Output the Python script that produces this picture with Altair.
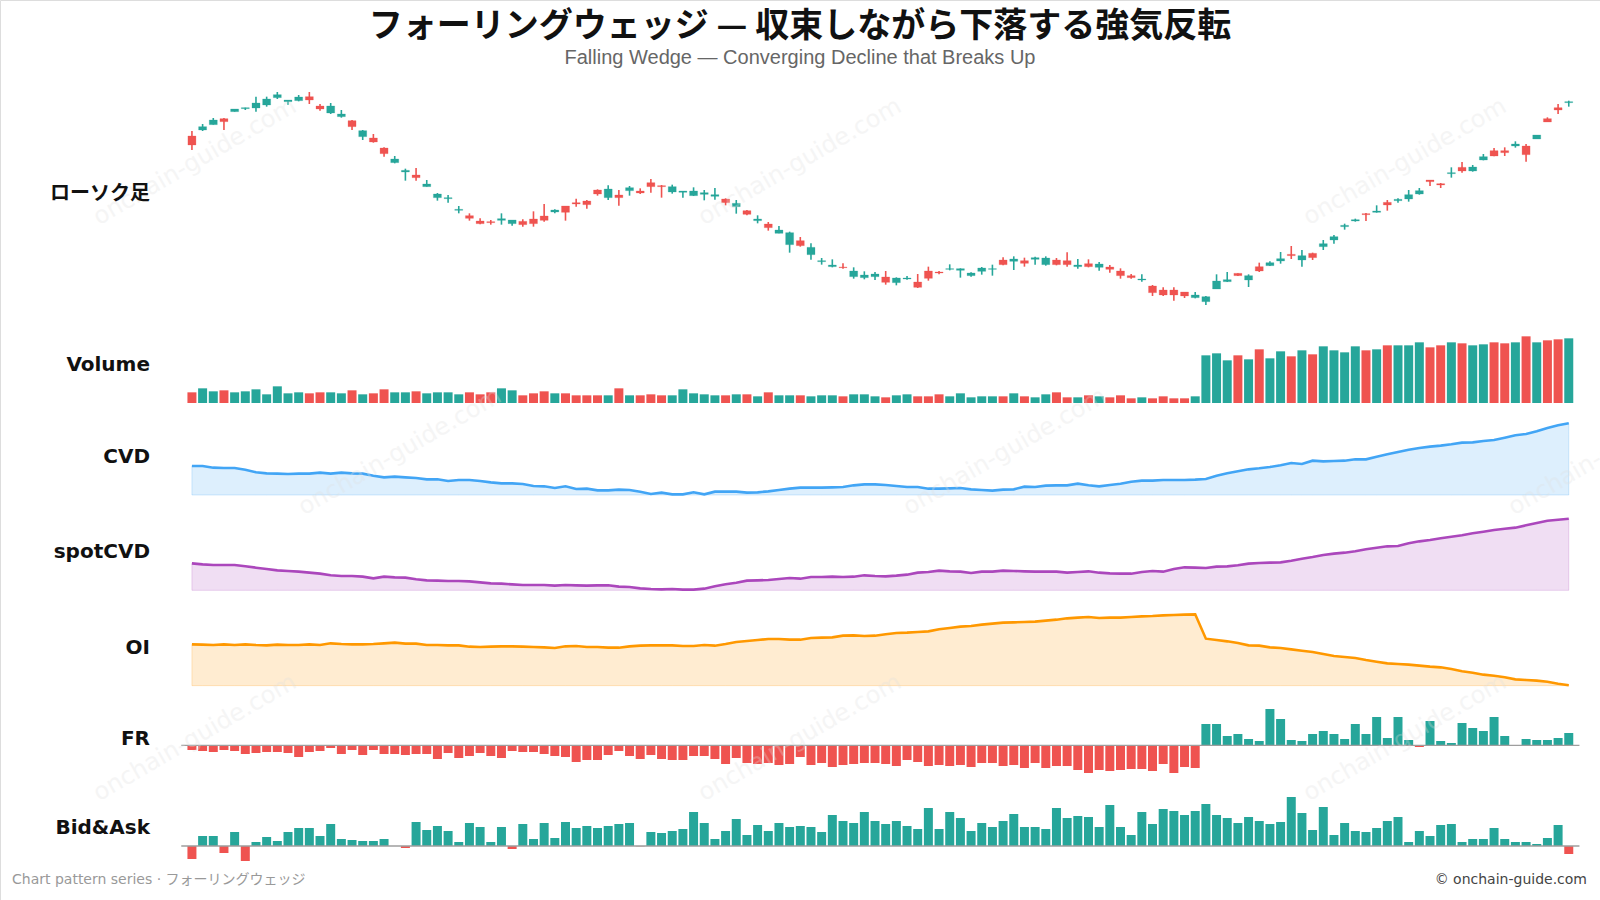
import altair as alt
import pandas as pd

GREEN = "#26a69a"
RED = "#ef5350"

N = 130
idx = list(range(N))

open_ = [832, 850, 866, 884, 905, 914, 916, 925, 947, 935, 938, 950, 922, 901, 890, 878, 830, 826, 796, 752,
         724, 715, 680, 647, 644, 609, 593, 577, 575, 579, 569, 576, 583, 592, 604, 622, 632, 637, 670, 647,
         655, 668, 667, 692, 683, 664, 663, 653, 657, 651, 643, 620, 608, 578, 568, 540, 506, 518, 476, 455,
         440, 439, 410, 407, 410, 409, 392, 403, 394, 427, 424, 432, 429, 413, 426, 432, 460, 456, 458, 462,
         446, 460, 458, 440, 449, 438, 439, 427, 413, 400, 382, 370, 370, 364, 347, 335, 373, 395, 420, 400,
         440, 443, 457, 477, 460, 480, 500, 520, 560, 577, 599, 603, 633, 638, 643, 658, 700, 689, 719, 738,
         727, 760, 788, 788, 802, 802, 823, 884, 917, 932]
high = [847, 868, 886, 886, 913, 917, 950, 950, 964, 940, 955, 964, 928, 931, 910, 880, 850, 838, 798, 772,
        734, 736, 700, 661, 655, 622, 600, 585, 580, 600, 580, 582, 606, 628, 612, 622, 644, 640, 672, 684,
        670, 682, 675, 703, 685, 686, 667, 678, 670, 676, 645, 640, 610, 594, 574, 562, 545, 529, 510, 466,
        462, 450, 438, 426, 424, 427, 408, 412, 418, 440, 427, 447, 435, 423, 439, 446, 468, 471, 467, 470,
        471, 466, 483, 463, 462, 454, 445, 435, 418, 417, 385, 378, 378, 364, 364, 352, 417, 424, 420, 417,
        452, 456, 484, 502, 490, 482, 520, 535, 569, 584, 601, 624, 640, 645, 670, 676, 700, 691, 738, 754,
        745, 778, 796, 798, 816, 808, 835, 888, 928, 938]
low = [790, 847, 866, 850, 905, 910, 905, 920, 943, 926, 936, 928, 908, 898, 887, 850, 820, 812, 770, 750,
       698, 698, 680, 638, 632, 600, 578, 567, 566, 566, 563, 560, 560, 575, 600, 578, 620, 614, 653, 640,
       623, 653, 658, 662, 647, 659, 647, 652, 639, 641, 624, 599, 594, 570, 548, 540, 482, 500, 461, 446,
       438, 434, 404, 402, 400, 386, 384, 401, 376, 398, 417, 429, 407, 410, 416, 413, 444, 430, 440, 446,
       443, 444, 440, 434, 438, 428, 422, 404, 404, 395, 352, 352, 338, 346, 345, 325, 373, 394, 412, 379,
       424, 442, 449, 463, 440, 460, 490, 509, 551, 575, 577, 602, 608, 632, 635, 656, 682, 676, 707, 722,
       725, 759, 771, 772, 797, 755, 823, 874, 898, 920]
close = [805, 860, 880, 875, 913, 917, 931, 943, 956, 940, 949, 940, 913, 922, 898, 860, 848, 814, 779, 763,
         729, 707, 688, 658, 647, 612, 585, 569, 572, 584, 580, 566, 569, 579, 610, 603, 628, 626, 658, 673,
         647, 677, 661, 680, 680, 680, 667, 667, 662, 656, 632, 630, 597, 583, 557, 550, 542, 503, 498, 458,
         445, 437, 427, 415, 418, 393, 406, 406, 378, 405, 421, 434, 434, 421, 436, 434, 446, 463, 450, 467,
         466, 446, 446, 445, 440, 448, 432, 413, 407, 403, 362, 355, 355, 352, 355, 350, 397, 401, 413, 413,
         427, 452, 464, 473, 473, 467, 509, 530, 564, 581, 596, 607, 625, 642, 656, 668, 695, 685, 722, 727,
         739, 770, 772, 782, 808, 776, 835, 874, 910, 935]
volume = [32, 44, 35, 38, 32, 35, 41, 26, 50, 29, 32, 29, 32, 32, 29, 38, 26, 29, 41, 32,
          32, 35, 29, 32, 32, 26, 32, 26, 32, 44, 38, 23, 29, 35, 29, 29, 23, 23, 23, 23,
          44, 23, 23, 26, 23, 23, 41, 29, 26, 23, 23, 26, 26, 20, 32, 23, 23, 23, 20, 23,
          23, 20, 26, 26, 20, 17, 23, 26, 20, 20, 26, 20, 29, 17, 20, 20, 20, 29, 20, 17,
          26, 32, 17, 17, 23, 20, 17, 23, 14, 17, 14, 20, 14, 14, 20, 143, 149, 128, 143, 131,
          161, 134, 155, 140, 158, 146, 170, 158, 152, 170, 158, 161, 173, 173, 173, 182, 167, 173, 182, 179,
          173, 176, 182, 179, 182, 200, 182, 188, 191, 194]
cvd = [87, 87, 82, 81, 81, 76, 68, 65, 64, 63, 64, 64, 67, 64, 67, 65, 64, 58, 53, 55,
       53, 51, 47, 47, 42, 45, 45, 42, 38, 35, 35, 33, 27, 26, 21, 26, 18, 19, 14, 14,
       16, 15, 10, 3, 7, 2, 2, 8, 2, 10, 10, 10, 7, 8, 11, 15, 19, 22, 22, 22,
       23, 24, 29, 32, 32, 30, 27, 24, 24, 19, 19, 20, 21, 17, 15, 13, 16, 17, 25, 24,
       28, 29, 29, 34, 29, 26, 30, 34, 40, 43, 43, 45, 45, 45, 46, 48, 58, 65, 71, 77,
       80, 84, 89, 96, 93, 103, 101, 102, 103, 107, 107, 115, 122, 129, 136, 141, 145, 148, 152, 157,
       158, 162, 165, 172, 179, 183, 191, 201, 209, 215]
spot_cvd = [81, 78, 76, 76, 76, 72, 68, 64, 60, 58, 56, 53, 50, 45, 43, 43, 41, 36, 41, 39,
            38, 33, 30, 29, 28, 28, 27, 24, 21, 20, 18, 16, 16, 16, 14, 16, 15, 14, 15, 15,
            11, 10, 6, 4, 3, 4, 2, 2, 5, 12, 18, 23, 29, 30, 31, 34, 37, 35, 40, 40,
            41, 40, 41, 45, 43, 42, 44, 47, 53, 55, 59, 57, 56, 52, 56, 56, 59, 58, 57, 56,
            56, 56, 53, 55, 57, 53, 51, 50, 50, 55, 58, 56, 64, 69, 68, 67, 71, 72, 75, 80,
            82, 83, 84, 89, 95, 100, 106, 110, 113, 117, 123, 128, 132, 133, 141, 147, 151, 156, 161, 165,
            171, 176, 181, 185, 188, 195, 202, 209, 212, 215]
oi = [124, 123, 122, 124, 122, 124, 122, 121, 123, 122, 122, 124, 122, 127, 125, 124, 124, 125, 127, 129,
      126, 126, 122, 122, 121, 121, 117, 116, 117, 118, 118, 117, 116, 115, 113, 118, 119, 116, 116, 114,
      114, 118, 120, 121, 121, 121, 119, 119, 122, 120, 125, 131, 134, 137, 140, 140, 138, 138, 143, 144,
      145, 150, 151, 149, 150, 154, 158, 159, 161, 163, 169, 173, 177, 179, 183, 186, 189, 190, 191, 192,
      195, 198, 202, 204, 206, 203, 204, 204, 206, 208, 209, 211, 212, 213, 214, 141, 137, 133, 128, 121,
      120, 115, 113, 109, 105, 101, 95, 89, 86, 83, 77, 72, 67, 65, 63, 60, 57, 55, 50, 43,
      39, 33, 30, 25, 19, 17, 15, 12, 6, 1]
fr = [-14, -17, -20, -14, -17, -26, -23, -20, -20, -23, -35, -20, -17, -8, -26, -14, -29, -14, -26, -26,
      -29, -26, -26, -41, -23, -38, -32, -23, -32, -38, -17, -20, -20, -26, -32, -35, -50, -44, -44, -29,
      -17, -32, -41, -29, -41, -44, -44, -32, -32, -41, -56, -38, -53, -56, -53, -59, -56, -35, -59, -53,
      -65, -59, -56, -53, -53, -56, -62, -44, -50, -62, -59, -62, -59, -65, -53, -53, -62, -59, -68, -53,
      -68, -62, -62, -74, -83, -74, -77, -74, -71, -71, -77, -56, -83, -65, -68, 64, 64, 28, 34, 19,
      13, 109, 79, 16, 13, 34, 43, 34, 19, 64, 34, 85, 22, 85, 16, -5, 73, 13, 7, 67,
      52, 43, 85, 28, -1, 19, 16, 16, 22, 37]
bid_ask = [-39, 30, 30, -21, 42, -45, 12, 27, 15, 42, 54, 54, 30, 66, 21, 18, 15, 15, 21, 0,
           -6, 72, 48, 60, 45, 12, 69, 57, 12, 57, -9, 66, 21, 69, 24, 72, 54, 60, 54, 60,
           66, 69, -1, 42, 39, 45, 51, 102, 69, 21, 45, 81, 33, 63, 45, 69, 57, 60, 57, 42,
           93, 75, 69, 102, 75, 66, 75, 60, 51, 114, 51, 102, 84, 45, 69, 57, 75, 96, 57, 57,
           51, 114, 84, 90, 87, 57, 123, 57, 33, 102, 66, 111, 105, 93, 105, 126, 93, 84, 69, 87,
           75, 66, 72, 147, 99, 48, 117, 33, 69, 45, 42, 54, 75, 87, 12, 45, 30, 63, 66, 12,
           21, 21, 54, 21, 12, 12, 6, 24, 63, -24]

panel_labels = ["ローソク足", "Volume", "CVD", "spotCVD", "OI", "FR", "Bid&Ask"]
title_text = "フォーリングウェッジ — 収束しながら下落する強気反転"
subtitle_text = "Falling Wedge — Converging Decline that Breaks Up"
footer_left = "Chart pattern series · フォーリングウェッジ"
footer_right = "© onchain-guide.com"
watermark = "onchain-guide.com"

df = pd.DataFrame({"i": idx, "open": open_, "high": high, "low": low, "close": close,
                   "volume": volume, "cvd": cvd, "spot": spot_cvd, "oi": oi,
                   "fr": fr, "ba": bid_ask})
df["dir"] = ["up" if c >= o else "down" for o, c in zip(open_, close)]
df["fr_sign"] = ["pos" if v >= 0 else "neg" for v in fr]
df["ba_sign"] = ["pos" if v >= 0 else "neg" for v in bid_ask]

xs = alt.Scale(domain=[-0.5, 129.5], range=[181.6, 1579.1], nice=False, zero=False)
X = alt.X("i:Q", scale=xs, axis=None)

def colr(field, dom):
    return alt.Color(field, scale=alt.Scale(domain=dom, range=[GREEN, RED]), legend=None)

base = alt.Chart(df)

# candles
ys_c = alt.Scale(domain=[300, 1000], range=[313.33, 80], nice=False, zero=False)
wick = base.mark_rule(strokeWidth=1.6).encode(
    x=X, y=alt.Y("low:Q", scale=ys_c, axis=None), y2="high:Q", color=colr("dir:N", ["up", "down"]))
body = base.mark_bar(size=8, strokeWidth=1, strokeOpacity=0.25).encode(
    x=X, y=alt.Y("open:Q", scale=ys_c, axis=None), y2="close:Q",
    color=colr("dir:N", ["up", "down"]),
    stroke=alt.Stroke("dir:N", scale=alt.Scale(domain=["up", "down"], range=[GREEN, RED]), legend=None))

# volume
ys_v = alt.Scale(domain=[0, 200], range=[403, 336.33], nice=False)
vol = base.mark_bar(size=9).encode(
    x=X, y=alt.Y("volume:Q", scale=ys_v, axis=None), color=colr("dir:N", ["up", "down"]))

def area_panel(field, rng, col):
    s = alt.Scale(domain=[0, 215], range=rng, nice=False)
    a = base.mark_area(color=col, fillOpacity=0.18, stroke=col, strokeOpacity=0.22, strokeWidth=1).encode(
        x=X, y=alt.Y(f"{field}:Q", scale=s, axis=None))
    l = base.mark_line(color=col, strokeWidth=2.6).encode(
        x=X, y=alt.Y(f"{field}:Q", scale=s, axis=None))
    return [a, l]

cvd_layers = area_panel("cvd", [495, 423.33], "#42a5f5")
spot_layers = area_panel("spot", [590.33, 518.67], "#ab47bc")
oi_layers = area_panel("oi", [685.67, 614], "#ff9800")

# FR
ys_f = alt.Scale(domain=[-90, 110], range=[775.33, 708.67], nice=False)
fr_bar = base.mark_bar(size=9).encode(
    x=X, y=alt.Y("fr:Q", scale=ys_f, axis=None), color=colr("fr_sign:N", ["pos", "neg"]))
fr_zero = alt.Chart(pd.DataFrame({"z": [0]})).mark_rule(color="#9e9e9e", strokeWidth=1.4).encode(
    x=alt.XDatum(-1, scale=xs, axis=None), x2=alt.X2Datum(130), y=alt.Y("z:Q", scale=ys_f, axis=None))

# Bid & Ask
ys_b = alt.Scale(domain=[-50, 150], range=[862.67, 796], nice=False)
ba_bar = base.mark_bar(size=9).encode(
    x=X, y=alt.Y("ba:Q", scale=ys_b, axis=None), color=colr("ba_sign:N", ["pos", "neg"]))
ba_zero = alt.Chart(pd.DataFrame({"z": [0]})).mark_rule(color="#9e9e9e", strokeWidth=1.4).encode(
    x=alt.XDatum(-1, scale=xs, axis=None), x2=alt.X2Datum(130), y=alt.Y("z:Q", scale=ys_b, axis=None))

def text_layer(txt, x, y, **kw):
    return alt.Chart(pd.DataFrame({"t": [txt]})).mark_text(**kw).encode(
        text="t:N", x=alt.value(x), y=alt.value(y))

label_y = [194, 365, 457, 552, 648, 739, 828]
labels = []
for lab, yy in zip(panel_labels, label_y):
    labels.append(text_layer(lab, 150, yy, align="right", baseline="middle", fontSize=20,
                             fontWeight="bold", font="DejaVu Sans, Noto Sans CJK JP", color="#111"))

title = text_layer(title_text, 800, 27, align="center", baseline="middle", fontSize=34,
                   fontWeight="bold", font="Noto Sans CJK JP", color="#111")
subtitle = text_layer(subtitle_text, 800, 58, align="center", baseline="middle", fontSize=20,
                      font="Liberation Sans", color="#666")
foot_l = text_layer(footer_left, 12, 880, align="left", baseline="middle", fontSize=14,
                    font="DejaVu Sans, Noto Sans CJK JP", color="#999")
foot_r = text_layer(footer_right, 1587, 880, align="right", baseline="middle", fontSize=14,
                    font="DejaVu Sans", color="#444")

wm_pos = [(195, 162), (800, 162), (1405, 162), (400, 452), (1005, 452), (1610, 452),
          (195, 738), (800, 738), (1405, 738)]
wms = [text_layer(watermark, x, y, align="center", baseline="middle", fontSize=24, angle=330,
                  font="DejaVu Sans", color="#e0e0e0", opacity=0.3) for x, y in wm_pos]

layers = (cvd_layers + spot_layers + oi_layers + [vol, fr_bar, fr_zero, ba_bar, ba_zero, wick, body]
          + wms + labels + [title, subtitle, foot_l, foot_r])

chart = alt.layer(*layers).resolve_scale(y="independent", color="independent", stroke="independent").properties(
    width=1600, height=900, autosize=alt.AutoSizeParams(type="none"), padding=0
).configure_view(strokeWidth=0, stroke="transparent").configure(background="white")

chart.save("out.html", embed_options={"renderer": "svg", "actions": False})
